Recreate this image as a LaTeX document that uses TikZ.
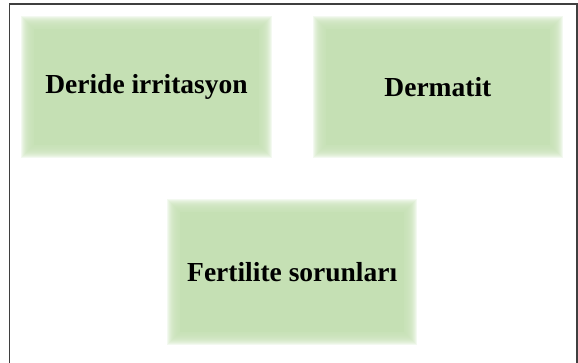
\documentclass[tikz,border=0pt]{standalone}
\usepackage{fontspec}
\setmainfont{Liberation Serif}
\usetikzlibrary{positioning, calc, backgrounds}

\definecolor{boxgreen}{HTML}{C5E0B4}
\definecolor{framegray}{HTML}{3F3F3F}

\begin{document}
\begin{tikzpicture}[
    x=1pt, y=1pt,
    every node/.style={font=\fontsize{27.5}{33}\selectfont\bfseries},  % label font
    node distance=55pt,
    effectbox/.style={draw=none, minimum width=236pt, minimum height=128pt, inner sep=0pt}
]
\useasboundingbox (0,0) rectangle (578,362);

% Outer frame (open at the bottom)
\draw[framegray, line width=1.2pt] (9.6,-10) |- (577,358) -- (577,-10);

% Effect boxes
\node[effectbox] (irr) at (146.5,275) {Deride irritasyon};
\node[effectbox, right=55pt of irr] (derm) {Dermatit};

\coordinate (gap) at ($(irr.south)!0.5!(derm.south)$);
\node[effectbox, below=55pt of gap, minimum height=131pt] (fert) {Fertilite sorunları};

% Soft (blurred) fill of the boxes
\begin{scope}[on background layer]
\foreach \n in {irr, derm, fert} {
    \fill[boxgreen] ([shift={(6pt,6pt)}]\n.south west) rectangle ([shift={(-6pt,-6pt)}]\n.north east);
    \foreach \k in {-6,...,7} {
        \fill[boxgreen, opacity=0.2] ([shift={(-\k pt,-\k pt)}]\n.south west) rectangle ([shift={(\k pt,\k pt)}]\n.north east);
    }
}
\end{scope}

\end{tikzpicture}
\end{document}
